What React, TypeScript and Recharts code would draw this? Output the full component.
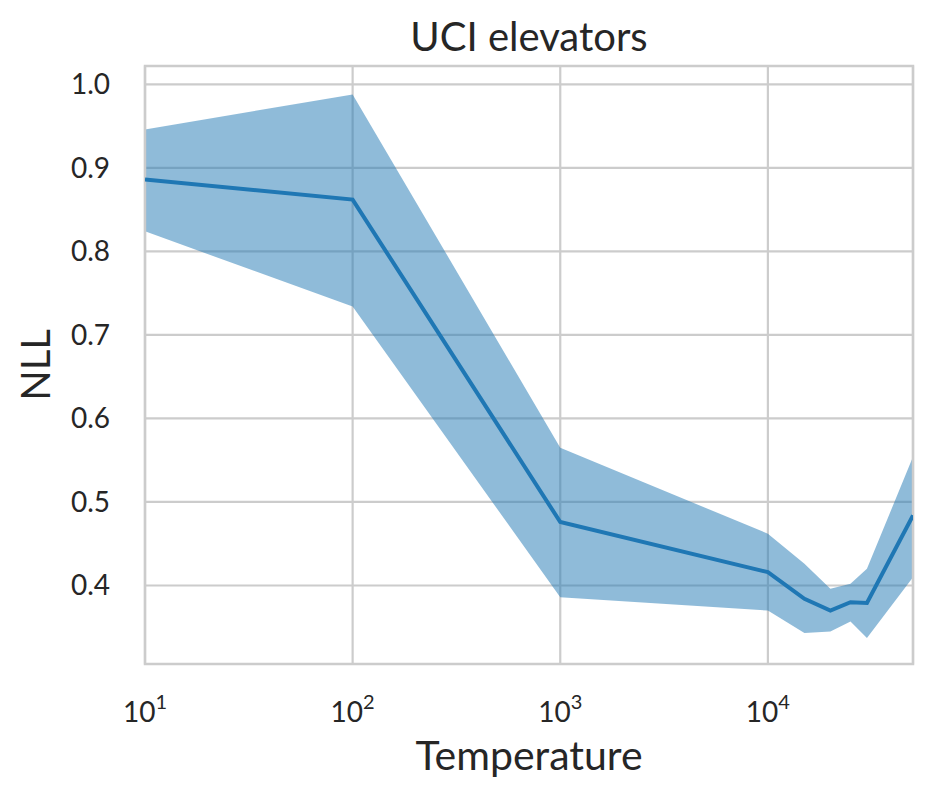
import React from 'react';
import { ComposedChart, Area, Line, XAxis, YAxis, CartesianGrid, ReferenceArea } from 'recharts';

const temperatures = [10, 100, 1000, 10000, 15000, 20000, 25000, 30000, 50000];
const nllMean = [0.886, 0.862, 0.476, 0.416, 0.384, 0.37, 0.38, 0.379, 0.484];
const nllUpper = [0.946, 0.988, 0.565, 0.462, 0.426, 0.396, 0.402, 0.42, 0.554];
const nllLower = [0.824, 0.734, 0.386, 0.37, 0.343, 0.345, 0.357, 0.337, 0.41];
const xTicks = [10, 100, 1000, 10000];
const yTicks = [0.4, 0.5, 0.6, 0.7, 0.8, 0.9, 1.0];
const xDomain = [10, 50000];
const yDomain = [0.306, 1.022];

const data = temperatures.map((t, i) => ({
  t,
  mean: nllMean[i],
  band: [nllLower[i], nllUpper[i]],
}));

const FONT = 'Lato, "DejaVu Sans", sans-serif';
const TEXT = '#262626';
const GRID = '#cccccc';

const XTick = (props: any) => {
  const { x, y, payload } = props;
  const exp = Math.round(Math.log10(payload.value));
  return (
    <text x={x} y={y} dy={58} textAnchor="middle" fill={TEXT} fontFamily={FONT} fontSize={28}>
      10
      <tspan dy={-13} fontSize={20}>{exp}</tspan>
    </text>
  );
};

export default function App() {
  return (
    <div style={{ position: 'absolute', left: 0, top: 0, width: 933, height: 798, background: '#fff' }}>
      <ComposedChart
        width={933}
        height={798}
        data={data}
        margin={{ top: 66, right: 20, bottom: 24, left: 0 }}
      >
        <CartesianGrid stroke={GRID} strokeWidth={2.2} horizontal vertical />
        <XAxis
          dataKey="t"
          type="number"
          scale="log"
          domain={xDomain}
          ticks={xTicks}
          allowDataOverflow
          height={110}
          tickSize={0}
          tickMargin={0}
          tickLine={false}
          axisLine={false}
          tick={<XTick />}
          interval={0}
          label={{
            content: (p: any) => {
              const vb = p.viewBox;
              return (
                <text x={vb.x + vb.width / 2} y={770} textAnchor="middle" fill={TEXT} fontFamily={FONT} fontSize={41}>
                  Temperature
                </text>
              );
            },
          }}
        />
        <YAxis
          type="number"
          domain={yDomain}
          ticks={yTicks}
          allowDataOverflow
          width={145}
          tickSize={0}
          tickMargin={35}
          tickLine={false}
          axisLine={false}
          interval={0}
          tickFormatter={(v: number) => v.toFixed(1)}
          tick={{ fill: TEXT, fontFamily: FONT, fontSize: 28 }}
          label={{
            content: (p: any) => {
              const vb = p.viewBox;
              const cy = vb.y + vb.height / 2;
              return (
                <text
                  x={0}
                  y={0}
                  transform={`translate(50, ${cy}) rotate(-90)`}
                  textAnchor="middle"
                  fill={TEXT}
                  fontFamily={FONT}
                  fontSize={40}
                >
                  NLL
                </text>
              );
            },
          }}
        />
        <Area
          dataKey="band"
          type="linear"
          fill="#1f77b4"
          fillOpacity={0.5}
          stroke="none"
          isAnimationActive={false}
          activeDot={false}
          dot={false}
        />
        <Line
          dataKey="mean"
          type="linear"
          stroke="#1f77b4"
          strokeWidth={4}
          dot={false}
          activeDot={false}
          isAnimationActive={false}
        />
        <ReferenceArea
          x1={xDomain[0]}
          x2={xDomain[1]}
          y1={yDomain[0]}
          y2={yDomain[1]}
          fill="none"
          fillOpacity={0}
          stroke={GRID}
          strokeWidth={2.5}
          ifOverflow="visible"
          label={{
            content: (p: any) => {
              const vb = p.viewBox;
              return (
                <text x={vb.x + vb.width / 2} y={51} textAnchor="middle" fill={TEXT} fontFamily={FONT} fontSize={40}>
                  UCI elevators
                </text>
              );
            },
          }}
        />
      </ComposedChart>
    </div>
  );
}
